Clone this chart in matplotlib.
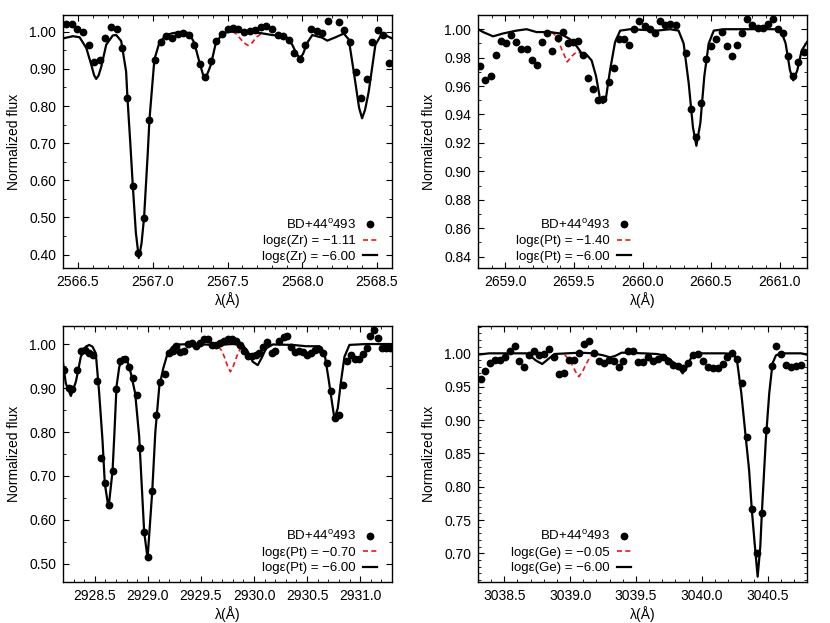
#!/usr/bin/env python3
"""Observed spectrum of BD+44 493 vs synthetic spectra around four lines (Zr, Pt, Pt, Ge).

Writes out.png (830x623 px).
"""
import matplotlib
matplotlib.use("Agg")  # file output only
import matplotlib.pyplot as plt
from matplotlib.ticker import MultipleLocator, FormatStrFormatter

plt.rcParams["font.family"] = ["Liberation Sans", "DejaVu Sans"]
plt.rcParams["mathtext.fontset"] = "custom"
plt.rcParams["mathtext.rm"] = "Liberation Sans"

STAR = r"BD+44$^{\rm o}$493"

# ---- panel 1: Zr, 2566.4 - 2568.6 A
zr_obs_wl = [2566.418, 2566.460, 2566.496, 2566.533, 2566.571, 2566.607, 2566.647, 2566.682, 2566.720,
             2566.758, 2566.793, 2566.831, 2566.867, 2566.904, 2566.942, 2566.978, 2567.016, 2567.053,
             2567.090, 2567.129, 2567.167, 2567.204, 2567.242, 2567.278, 2567.313, 2567.349, 2567.389,
             2567.424, 2567.462, 2567.500, 2567.536, 2567.573, 2567.613, 2567.651, 2567.687, 2567.724,
             2567.760, 2567.798, 2567.836, 2567.873, 2567.911, 2567.947, 2567.982, 2568.020, 2568.058,
             2568.096, 2568.133, 2568.171, 2568.244, 2568.282, 2568.320, 2568.358, 2568.393, 2568.431,
             2568.469, 2568.504, 2568.542, 2568.580]
zr_obs_fl = [1.022, 1.020, 1.008, 1.000, 0.963, 0.919, 0.923, 0.982, 1.012,
             1.006, 0.956, 0.822, 0.584, 0.404, 0.499, 0.763, 0.925, 0.973,
             0.988, 0.983, 0.993, 0.997, 0.990, 0.965, 0.912, 0.877, 0.922,
             0.975, 0.995, 1.008, 1.010, 1.007, 1.000, 1.003, 1.005, 1.012,
             1.015, 1.006, 0.991, 0.988, 0.979, 0.942, 0.926, 0.965, 1.006,
             1.001, 0.996, 1.029, 1.027, 1.005, 0.973, 0.892, 0.822, 0.873,
             0.972, 1.004, 0.991, 0.917]
zr_mod_wl = [2566.400, 2566.467, 2566.511, 2566.556, 2566.589, 2566.608, 2566.622, 2566.638, 2566.656,
             2566.689, 2566.733, 2566.756, 2566.789, 2566.822, 2566.831, 2566.850, 2566.867, 2566.887,
             2566.907, 2566.925, 2566.942, 2566.967, 2566.978, 2567.011, 2567.044, 2567.089, 2567.133,
             2567.200, 2567.244, 2567.278, 2567.311, 2567.335, 2567.349, 2567.365, 2567.389, 2567.422,
             2567.467, 2567.511, 2567.622, 2567.711, 2567.800, 2567.889, 2567.933, 2567.965, 2567.985,
             2568.005, 2568.033, 2568.067, 2568.133, 2568.167, 2568.222, 2568.278, 2568.311, 2568.344,
             2568.380, 2568.400, 2568.420, 2568.444, 2568.489, 2568.533, 2568.600]
zr_mod_fl = [0.982, 0.988, 0.985, 0.956, 0.911, 0.883, 0.873, 0.882, 0.906,
             0.965, 0.990, 0.991, 0.975, 0.893, 0.822, 0.700, 0.584, 0.460,
             0.391, 0.430, 0.499, 0.675, 0.763, 0.925, 0.970, 0.991, 0.996,
             1.000, 0.996, 0.970, 0.920, 0.886, 0.876, 0.886, 0.911, 0.970,
             0.995, 1.000, 1.000, 0.997, 0.991, 0.988, 0.965, 0.938, 0.930,
             0.940, 0.970, 0.991, 0.984, 0.976, 0.985, 0.995, 0.979, 0.893,
             0.795, 0.767, 0.790, 0.838, 0.965, 0.995, 0.982]
zr_test_wl = [2567.533, 2567.556, 2567.578, 2567.610, 2567.638, 2567.665, 2567.689, 2567.733]
zr_test_fl = [1.000, 0.995, 0.985, 0.970, 0.963, 0.970, 0.984, 0.997]

# ---- panel 2: Pt, 2658.8 - 2661.2 A
pt1_obs_wl = [2658.812, 2658.854, 2658.895, 2658.929, 2658.966, 2659.005, 2659.044, 2659.080, 2659.117,
              2659.156, 2659.193, 2659.229, 2659.266, 2659.305, 2659.341, 2659.380, 2659.417, 2659.454,
              2659.493, 2659.529, 2659.566, 2659.602, 2659.639, 2659.678, 2659.715, 2659.754, 2659.790,
              2659.827, 2659.866, 2659.902, 2659.941, 2659.978, 2660.015, 2660.054, 2660.090, 2660.127,
              2660.166, 2660.202, 2660.241, 2660.315, 2660.351, 2660.390, 2660.427, 2660.463, 2660.500,
              2660.539, 2660.578, 2660.615, 2660.651, 2660.690, 2660.727, 2660.763, 2660.802, 2660.839,
              2660.876, 2660.915, 2660.951, 2660.988, 2661.024, 2661.061, 2661.098, 2661.137, 2661.178]
pt1_obs_fl = [0.974, 0.964, 0.967, 0.982, 0.992, 0.990, 0.996, 0.991, 0.986,
              0.986, 0.978, 0.975, 0.991, 0.997, 0.985, 0.994, 0.998, 0.990,
              0.991, 0.992, 0.982, 0.966, 0.958, 0.950, 0.951, 0.963, 0.973,
              0.993, 0.993, 0.989, 1.000, 1.006, 1.002, 1.000, 0.997, 1.006,
              1.003, 1.004, 1.003, 0.983, 0.944, 0.924, 0.948, 0.979, 0.988,
              0.993, 0.998, 0.988, 0.981, 0.989, 0.997, 1.007, 1.003, 1.001,
              1.001, 1.004, 1.007, 1.000, 0.997, 0.981, 0.967, 0.977, 0.984]
pt1_mod_wl = [2658.800, 2658.837, 2658.910, 2658.983, 2659.080, 2659.154, 2659.227, 2659.324, 2659.398,
              2659.471, 2659.520, 2659.556, 2659.593, 2659.629, 2659.661, 2659.690, 2659.710, 2659.734,
              2659.763, 2659.800, 2659.837, 2659.910, 2660.105, 2660.202, 2660.263, 2660.300, 2660.337,
              2660.368, 2660.393, 2660.422, 2660.451, 2660.483, 2660.520, 2660.593, 2661.007, 2661.044,
              2661.076, 2661.100, 2661.129, 2661.161, 2661.200]
pt1_mod_fl = [1.000, 0.998, 0.995, 0.997, 0.999, 1.000, 0.998, 0.998, 0.997,
              0.993, 0.988, 0.983, 0.982, 0.978, 0.967, 0.951, 0.948, 0.952,
              0.971, 0.991, 0.999, 1.000, 0.999, 1.000, 0.999, 0.990, 0.962,
              0.931, 0.918, 0.934, 0.967, 0.990, 0.999, 1.000, 1.000, 0.990,
              0.971, 0.964, 0.971, 0.985, 0.991]
pt1_test_wl = [2659.337, 2659.373, 2659.410, 2659.451, 2659.483, 2659.520, 2659.556, 2659.580]
pt1_test_fl = [0.998, 0.995, 0.986, 0.977, 0.981, 0.984, 0.983, 0.982]

# ---- panel 3: Pt, 2928.2 - 2931.3 A
pt2_obs_wl = [2928.211, 2928.252, 2928.289, 2928.330, 2928.368, 2928.409, 2928.447, 2928.484, 2928.519,
              2928.557, 2928.594, 2928.629, 2928.667, 2928.704, 2928.739, 2928.780, 2928.818, 2928.855,
              2928.893, 2928.928, 2928.965, 2929.003, 2929.041, 2929.075, 2929.116, 2929.157, 2929.201,
              2929.233, 2929.264, 2929.302, 2929.336, 2929.374, 2929.412, 2929.453, 2929.494, 2929.531,
              2929.569, 2929.607, 2929.642, 2929.679, 2929.717, 2929.755, 2929.792, 2929.830, 2929.868,
              2929.903, 2929.943, 2929.981, 2930.019, 2930.050, 2930.088, 2930.126, 2930.167, 2930.201,
              2930.239, 2930.280, 2930.314, 2930.352, 2930.390, 2930.428, 2930.465, 2930.503, 2930.541,
              2930.575, 2930.616, 2930.654, 2930.689, 2930.723, 2930.761, 2930.799, 2930.840, 2930.874,
              2930.912, 2930.950, 2930.987, 2931.025, 2931.060, 2931.097, 2931.135, 2931.170, 2931.208,
              2931.245, 2931.283]
pt2_obs_fl = [0.942, 0.899, 0.897, 0.941, 0.984, 0.986, 0.980, 0.975, 0.916,
              0.742, 0.683, 0.633, 0.712, 0.897, 0.961, 0.967, 0.947, 0.922,
              0.884, 0.764, 0.572, 0.515, 0.666, 0.839, 0.914, 0.933, 0.979,
              0.985, 0.995, 0.983, 0.985, 1.000, 1.003, 0.995, 1.002, 1.011,
              1.011, 0.998, 0.998, 1.002, 1.008, 1.011, 1.011, 1.008, 0.998,
              0.985, 0.973, 0.973, 0.975, 0.980, 0.994, 1.005, 0.979, 0.985,
              1.008, 1.017, 1.018, 0.994, 0.983, 0.985, 0.983, 0.975, 0.979,
              0.986, 0.988, 0.979, 0.958, 0.894, 0.831, 0.839, 0.907, 0.962,
              0.975, 0.967, 0.967, 0.977, 0.990, 1.018, 1.032, 1.013, 0.990,
              0.992, 0.990]
pt2_mod_wl = [2928.200, 2928.226, 2928.274, 2928.321, 2928.368, 2928.415, 2928.447, 2928.478, 2928.509,
              2928.541, 2928.572, 2928.594, 2928.629, 2928.667, 2928.685, 2928.704, 2928.730, 2928.761,
              2928.783, 2928.808, 2928.840, 2928.880, 2928.918, 2928.965, 2928.997, 2929.041, 2929.070,
              2929.107, 2929.145, 2929.186, 2929.233, 2929.296, 2929.421, 2929.642, 2929.799, 2929.893,
              2929.940, 2929.987, 2930.035, 2930.075, 2930.113, 2930.176, 2930.365, 2930.491, 2930.616,
              2930.664, 2930.704, 2930.736, 2930.758, 2930.789, 2930.821, 2930.852, 2930.899, 2931.057,
              2931.300]
pt2_mod_fl = [0.958, 0.911, 0.882, 0.914, 0.971, 0.994, 0.998, 0.994, 0.979,
              0.888, 0.782, 0.683, 0.627, 0.712, 0.800, 0.903, 0.948, 0.970,
              0.970, 0.960, 0.933, 0.888, 0.789, 0.572, 0.513, 0.666, 0.800,
              0.903, 0.945, 0.979, 0.994, 0.999, 1.000, 0.998, 1.000, 0.998,
              0.983, 0.960, 0.952, 0.970, 0.990, 0.999, 0.998, 0.995, 0.995,
              0.979, 0.918, 0.865, 0.830, 0.854, 0.918, 0.971, 0.998, 1.000,
              1.000]
pt2_test_wl = [2929.667, 2929.695, 2929.720, 2929.750, 2929.777, 2929.805, 2929.836, 2929.865, 2929.893]
pt2_test_fl = [0.994, 0.985, 0.971, 0.950, 0.937, 0.950, 0.971, 0.987, 0.995]

# ---- panel 4: Ge, 3038.3 - 3040.8 A
ge_obs_wl = [3038.322, 3038.352, 3038.390, 3038.429, 3038.467, 3038.503, 3038.541, 3038.579, 3038.615,
             3038.653, 3038.691, 3038.729, 3038.767, 3038.803, 3038.841, 3038.879, 3038.915, 3038.956,
             3038.989, 3039.027, 3039.066, 3039.104, 3039.142, 3039.178, 3039.216, 3039.254, 3039.292,
             3039.331, 3039.369, 3039.404, 3039.443, 3039.481, 3039.519, 3039.557, 3039.593, 3039.631,
             3039.669, 3039.708, 3039.743, 3039.782, 3039.820, 3039.855, 3039.896, 3039.932, 3039.970,
             3040.008, 3040.044, 3040.082, 3040.120, 3040.159, 3040.194, 3040.230, 3040.266, 3040.304,
             3040.342, 3040.380, 3040.418, 3040.457, 3040.490, 3040.531, 3040.566, 3040.604, 3040.643,
             3040.678, 3040.719, 3040.755]
ge_obs_fl = [0.961, 0.974, 0.985, 0.990, 0.990, 0.994, 1.004, 1.011, 0.988,
             0.980, 0.998, 1.004, 0.998, 0.999, 1.006, 0.995, 0.969, 0.970,
             0.990, 0.990, 1.000, 1.014, 1.018, 1.000, 0.988, 0.986, 0.990,
             0.989, 0.979, 0.988, 1.004, 1.003, 0.987, 0.987, 0.994, 0.989,
             0.992, 0.994, 0.988, 0.983, 0.981, 0.978, 0.985, 0.998, 0.999,
             0.989, 0.980, 0.978, 0.978, 0.984, 0.994, 1.001, 0.991, 0.956,
             0.875, 0.767, 0.700, 0.761, 0.885, 0.981, 1.011, 0.999, 0.983,
             0.979, 0.981, 0.983]
ge_mod_wl = [3038.300, 3038.385, 3038.666, 3038.704, 3038.742, 3038.788, 3038.831, 3038.882, 3039.073,
             3039.175, 3039.252, 3039.303, 3039.341, 3039.392, 3039.557, 3039.659, 3039.710, 3039.761,
             3039.812, 3039.855, 3039.894, 3039.927, 3039.990, 3040.169, 3040.245, 3040.271, 3040.301,
             3040.334, 3040.360, 3040.380, 3040.400, 3040.425, 3040.445, 3040.457, 3040.487, 3040.513,
             3040.538, 3040.564, 3040.602, 3040.755, 3040.800]
ge_mod_fl = [0.998, 1.000, 1.000, 0.995, 0.989, 0.984, 0.991, 0.999, 1.001,
             1.000, 0.997, 0.994, 0.996, 1.001, 1.000, 0.999, 0.997, 0.990,
             0.982, 0.970, 0.982, 0.997, 1.000, 1.000, 0.999, 0.985, 0.940,
             0.875, 0.825, 0.767, 0.720, 0.665, 0.710, 0.761, 0.870, 0.940,
             0.985, 0.997, 1.000, 1.000, 0.998]
ge_test_wl = [3038.959, 3038.985, 3039.010, 3039.040, 3039.066, 3039.095, 3039.124, 3039.150, 3039.180]
ge_test_fl = [0.998, 0.992, 0.985, 0.973, 0.965, 0.973, 0.985, 0.994, 1.000]

# legend labels
zr_labels = ["logε(Zr) = −1.11", "logε(Zr) = −6.00"]
pt1_labels = ["logε(Pt) = −1.40", "logε(Pt) = −6.00"]
pt2_labels = ["logε(Pt) = −0.70", "logε(Pt) = −6.00"]
ge_labels = ["logε(Ge) = −0.05", "logε(Ge) = −6.00"]


def draw_panel(ax, obs, mod, test, labels, xlim, ylim, ystep, yminor, legend_anchor):
    ax.plot(test[0], test[1], color="#e8161b", lw=1.2, ls=(0, (3, 2)), label=labels[0], zorder=2)
    ax.plot(mod[0], mod[1], color="black", lw=1.6, label=labels[1], zorder=3)
    ax.plot(obs[0], obs[1], ls="none", marker="o", ms=4.6, color="black", label=STAR, zorder=4)

    ax.set_xlim(*xlim)
    ax.set_ylim(*ylim)
    ax.xaxis.set_major_locator(MultipleLocator(0.5))
    ax.xaxis.set_minor_locator(MultipleLocator(0.1))
    ax.xaxis.set_major_formatter(FormatStrFormatter("%.1f"))
    ax.yaxis.set_major_locator(MultipleLocator(ystep))
    ax.yaxis.set_minor_locator(MultipleLocator(yminor))
    ax.yaxis.set_major_formatter(FormatStrFormatter("%.2f"))
    ax.tick_params(which="both", direction="in", top=True, right=True, labelsize=10)
    ax.tick_params(which="major", length=4, width=0.8, pad=5)
    ax.tick_params(which="minor", length=2, width=0.6)
    for s in ax.spines.values():
        s.set_linewidth(1.0)
    ax.set_xlabel("λ(Å)", fontsize=10, labelpad=2)
    ax.set_ylabel("Normalized flux", fontsize=10, labelpad=6)

    # gnuplot-style key: text first, sample on the right
    h, l = ax.get_legend_handles_labels()
    order = [2, 0, 1]
    ax.legend([h[i] for i in order], [l[i] for i in order], loc="lower right",
              bbox_to_anchor=legend_anchor, frameon=False, markerfirst=False, numpoints=1,
              handlelength=1.05, handletextpad=0.55, labelspacing=0.25,
              borderaxespad=0.0, borderpad=0.0, fontsize=9.5)


def main():
    fig = plt.figure(figsize=(8.3, 6.23), dpi=100)
    w, h = 329 / 830, 253 / 623
    ax1 = fig.add_axes([63 / 830, 1 - 268 / 623, w, h])
    ax2 = fig.add_axes([478 / 830, 1 - 268 / 623, w, h])
    ax3 = fig.add_axes([63 / 830, 1 - 582 / 623, w, 256 / 623])
    ax4 = fig.add_axes([478 / 830, 1 - 582 / 623, w, 256 / 623])

    draw_panel(ax1, (zr_obs_wl, zr_obs_fl), (zr_mod_wl, zr_mod_fl), (zr_test_wl, zr_test_fl),
               zr_labels, (2566.4, 2568.6), (0.364, 1.045), 0.1, 0.05, (0.954, 0.02))
    draw_panel(ax2, (pt1_obs_wl, pt1_obs_fl), (pt1_mod_wl, pt1_mod_fl), (pt1_test_wl, pt1_test_fl),
               pt1_labels, (2658.8, 2661.2), (0.832, 1.010), 0.02, 0.01, (0.465, 0.02))
    draw_panel(ax3, (pt2_obs_wl, pt2_obs_fl), (pt2_mod_wl, pt2_mod_fl), (pt2_test_wl, pt2_test_fl),
               pt2_labels, (2928.2, 2931.3), (0.459, 1.041), 0.1, 0.05, (0.954, 0.03))
    draw_panel(ax4, (ge_obs_wl, ge_obs_fl), (ge_mod_wl, ge_mod_fl), (ge_test_wl, ge_test_fl),
               ge_labels, (3038.3, 3040.8), (0.657, 1.041), 0.05, 0.01, (0.465, 0.03))

    fig.savefig("out.png", dpi=100)
    plt.close(fig)


if __name__ == "__main__":
    main()
